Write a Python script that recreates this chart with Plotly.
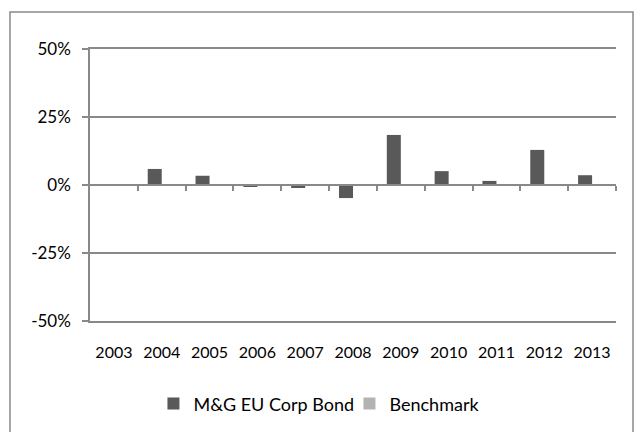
import plotly.graph_objects as go

years = ["2003", "2004", "2005", "2006", "2007", "2008", "2009", "2010", "2011", "2012", "2013"]
fund_returns = [None, 5.9, 3.4, -0.6, -1.1, -4.8, 18.4, 5.1, 1.5, 12.9, 3.6]
benchmark_returns = [None] * len(years)
y_tick_values = [-50, -25, 0, 25, 50]
y_tick_labels = ["-50%", "-25%", "0%", "25%", "50%"]

GRID = "#898989"
FONT_MAIN = "Lato, 'Open Sans', sans-serif"

fig = go.Figure()
fig.add_trace(go.Bar(x=years, y=fund_returns, name="M&G EU Corp Bond",
                     marker=dict(color="#595959", line=dict(width=0))))
fig.add_trace(go.Bar(x=years, y=benchmark_returns, name="Benchmark",
                     marker=dict(color="#b3b3b3", line=dict(width=0))))
# helper trace to host the zero-line category axis
fig.add_trace(go.Scatter(x=[], y=[], xaxis="x2", showlegend=False, hoverinfo="skip"))

n = len(years)
fig.update_layout(
    width=640, height=432,
    margin=dict(l=90, r=24, t=49, b=111),
    paper_bgcolor="white", plot_bgcolor="white",
    barmode="group", bargap=0.414, bargroupgap=0,
    font=dict(family=FONT_MAIN, size=18, color="#000000"),
    xaxis=dict(type="category", categoryarray=years, range=[-0.5, n - 0.5],
               showline=True, mirror=True, linecolor=GRID, linewidth=1.5,
               showgrid=False, zeroline=False, ticks="",
               tickfont=dict(family=FONT_MAIN, size=16),
               ticklabelstandoff=16),
    xaxis2=dict(overlaying="x", anchor="free", position=0.5,
                range=[-0.5, n - 0.5],
                tickvals=[i + 0.5 for i in range(n)],
                ticks="outside", ticklen=5, tickwidth=1.5, tickcolor=GRID,
                showline=True, linecolor=GRID, linewidth=1.5,
                showticklabels=False, showgrid=False, zeroline=False),
    yaxis=dict(range=[-50, 50], domain=[0, 1],
               tickvals=y_tick_values, ticktext=y_tick_labels,
               showgrid=True, gridcolor=GRID, gridwidth=1.5,
               zeroline=False,
               showline=True, linecolor=GRID, linewidth=1.5,
               ticks="outside", ticklen=6, tickwidth=1.5, tickcolor=GRID,
               tickfont=dict(family=FONT_MAIN, size=17),
               ticklabelstandoff=8),
    legend=dict(orientation="h", xref="container", yref="container",
                x=0.546, y=0.065, xanchor="center", yanchor="middle",
                font=dict(family=FONT_MAIN, size=18),
                itemwidth=30, entrywidth=151, traceorder="normal"),
    shapes=[dict(type="rect", xref="paper", yref="paper",
                 x0=(10 - 90) / 526, x1=(633 - 90) / 526,
                 y0=(321 - 445) / 272, y1=(321 - 12) / 272,
                 line=dict(color=GRID, width=1.5), fillcolor="rgba(0,0,0,0)",
                 layer="below")],
)

fig.write_html("out.html",
               config={"displayModeBar": False},
               post_script="document.body.style.margin='0';document.body.style.padding='0';")
